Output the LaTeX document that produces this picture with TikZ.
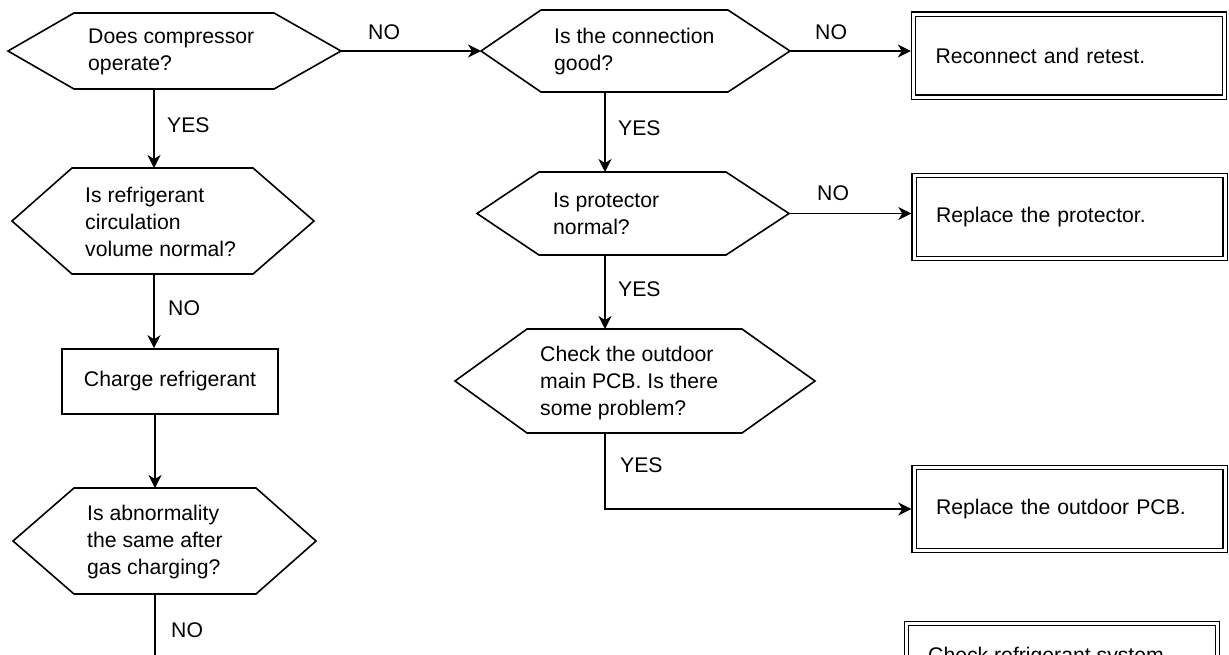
\documentclass[tikz,border=0pt]{standalone}
\usepackage{fontspec}
\setmainfont{Liberation Sans}
\usetikzlibrary{arrows.meta,calc}
\newcommand{\txtfont}{\fontsize{21.2}{27}\selectfont}
\newcommand{\hexa}[7]{%
  \coordinate (#1-w) at (#2,{(#6+#7)/2});
  \coordinate (#1-e) at (#5,{(#6+#7)/2});
  \draw[ln] (#1-w) -- (#3,#6) -- (#4,#6) -- (#1-e) -- (#4,#7) -- (#3,#7) -- cycle;
}
\tikzset{
  ln/.style={line width=1.6pt, line join=miter},
  arr/.style={ln, -{Stealth[length=13pt,width=13pt,inset=4pt]}},
  lbl/.style={anchor=west, inner sep=0pt, font=\txtfont},
  txt/.style={anchor=west, inner sep=0pt, align=left, font=\txtfont},
  dbox/.style={draw, line width=1.2pt, double, double distance=3pt, rectangle,
    minimum width=311pt, minimum height=83pt, text width=267pt, inner xsep=22pt,
    align=left, font=\txtfont, outer sep=2.7pt},
  sbox/.style={draw, ln, rectangle, minimum width=216pt, minimum height=65pt,
    inner sep=0pt, font=\txtfont}
}
\begin{document}
\begin{tikzpicture}[x=1pt,y=-1pt]
\useasboundingbox (0,0) rectangle (1229,654);
\fill[white] (0,0) rectangle (1229,654);
\clip (0,0) rectangle (1229,654);

% hexagons
\hexa{h1}{8}{74}{274}{341}{13}{89}
\hexa{h2}{12}{72}{253}{314}{168}{274}
\hexa{h3}{13}{74}{256}{316}{488}{594}
\hexa{h4}{481}{541}{728}{790}{10}{92}
\hexa{h5}{477}{539}{726}{789}{172}{255}
\hexa{h6}{455}{527}{742}{815}{329}{433}

% hexagon texts
\node[txt] (t1) at (88,52) {Does compressor\\operate?};
\node[txt] (t2) at (85,222) {Is refrigerant\\circulation\\volume normal?};
\node[txt] (t3) at (87,542) {Is abnormality\\the same after\\gas charging?};
\node[txt] (t4) at (554,52) {Is the connection\\good?};
\node[txt] (t5) at (553,214) {Is protector\\normal?};
\node[txt] (t6) at (540,383) {Check the outdoor\\main PCB. Is there\\some problem?};

% boxes
\node[sbox] (cr) at (170,381.5) {Charge refrigerant};
\node[dbox] (b1) at (1069,55.5) {Reconnect and retest.};
\node[dbox] (b2) at (1069.5,217) {Replace the protector.};
\node[dbox] (b3) at (1069.5,509) {Replace the outdoor PCB.};
\node[dbox, minimum height=100pt, anchor=north west] (b4) at (904,621) {};
\node[lbl, anchor=base west] (t7) at (928,662) {Check refrigerant system};

% connection points
\coordinate (h1-s) at (154,89);
\coordinate (h2-n) at (154,168);
\coordinate (h2-s) at (154,274);
\coordinate (h3-n) at (155,488);
\coordinate (h3-s) at (155,594);
\coordinate (end3) at (155,670);
\coordinate (h4-s) at (605,92);
\coordinate (h5-n) at (605,172);
\coordinate (h5-s) at (605,255);
\coordinate (h6-n) at (605,329);
\coordinate (h6-s) at (605,433);

% connectors
\draw[arr] (h1-e) -- (h4-w);
\draw[arr] (h4-e) -- (h4-e -| b1.west);
\draw[arr] (h5-e) -- (h5-e -| b2.west);
\draw[arr] (h1-s) -- (h2-n);
\draw[arr] (h2-s) -- (h2-s |- cr.north);
\draw[arr] (h3-n |- cr.south) -- (h3-n);
\draw[ln] (h3-s) -- (end3);
\draw[arr] (h4-s) -- (h5-n);
\draw[arr] (h5-s) -- (h6-n);
\draw[arr] (h6-s) |- (b3.west);

% labels
\node[lbl] (l1) at (368,32) {NO};
\node[lbl] (l2) at (815,32) {NO};
\node[lbl] (l3) at (167,125) {YES};
\node[lbl] (l4) at (618,128) {YES};
\node[lbl] (l5) at (817,193) {NO};
\node[lbl] (l6) at (168,308) {NO};
\node[lbl] (l7) at (618,289) {YES};
\node[lbl] (l8) at (620,465) {YES};
\node[lbl] (l9) at (171,630) {NO};
\end{tikzpicture}
\end{document}
